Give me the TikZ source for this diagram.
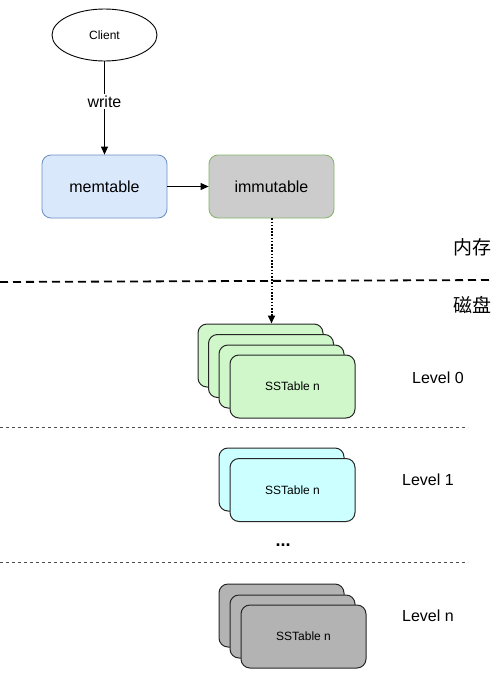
\documentclass[tikz,border=0pt]{standalone}
\usepackage{fontspec}
\setmainfont{Liberation Sans}
\newfontfamily\cjk{Noto Sans CJK SC}
\usetikzlibrary{arrows.meta,shapes.geometric}
\definecolor{memfill}{HTML}{DAE8FC}
\definecolor{memdraw}{HTML}{6C8EBF}
\definecolor{immfill}{HTML}{CCCCCC}
\definecolor{immdraw}{HTML}{82B366}
\definecolor{lzfill}{HTML}{CFF7CA}
\definecolor{lofill}{HTML}{CCFFFF}
\definecolor{lnfill}{HTML}{B3B3B3}
\begin{document}
\begin{tikzpicture}[x=1pt,y=-1pt,
  box/.style={draw, line width=0.8pt, rounded corners=9pt, minimum width=125pt, minimum height=63pt, inner sep=0pt, font=\fontsize{16}{18}\selectfont},
  sst/.style={draw=black!85, line width=1pt, rounded corners=9pt, minimum width=125pt, minimum height=63pt, inner sep=0pt, font=\fontsize{12}{14}\selectfont},
  lvl/.style={font=\fontsize{16}{18}\selectfont},
  sep/.style={draw=black!70, line width=0.8pt, dash pattern=on 3pt off 3pt},
  arr/.style={-{Triangle[length=8pt,width=7pt]}, line width=0.9pt}]
\useasboundingbox (0,0) rectangle (500,675);
\fill[white] (0,0) rectangle (500,675);

% top part
\node[ellipse, draw, line width=0.9pt, minimum width=105pt, minimum height=52pt, inner sep=0pt, font=\fontsize{12}{14}\selectfont] (client) at (104.5,35) {Client};
\node[box, fill=memfill, draw=memdraw] (mem) at (104.5,186.5) {memtable};
\node[box, fill=immfill, draw=immdraw] (imm) at (271.5,186.5) {immutable};

\draw[arr] (client) -- node[pos=0.43, fill=white, inner sep=2pt, font=\fontsize{16}{18}\selectfont] (wlabel) {write} (mem);
\draw[arr] (mem) -- (imm);

% memory / disk separator
\coordinate (sepL) at (0,282);
\coordinate (sepR) at (492,280);
\draw[line width=1.8pt, dash pattern=on 8pt off 5pt] (sepL) -- (sepR);
\node[font=\cjk\fontsize{19}{21}\selectfont] (mem_lbl) at (472,247) {内存};
\node[font=\cjk\fontsize{19}{21}\selectfont] (disk_lbl) at (472,305) {磁盘};

% level 0
\node[sst, fill=lzfill] (l0a) at (260.5,355.5) {};
\node[sst, fill=lzfill] (l0b) at (271,366) {};
\node[sst, fill=lzfill] (l0c) at (281.5,376.5) {};
\node[sst, fill=lzfill] (l0d) at (292.5,386.5) {SSTable n};
\node[lvl] (lv0) at (438,378) {Level 0};

\draw[arr, line width=2pt, dash pattern=on 1.6pt off 1.6pt] (imm.south) -- (imm.south |- l0a.north);

\draw[sep] (0,427) -- (468,427);

% level 1
\node[sst, fill=lofill] (l1a) at (281.5,479.5) {};
\node[sst, fill=lofill] (l1b) at (292.5,490) {SSTable n};
\node[lvl] (lv1) at (428,480) {Level 1};

\node[font=\fontsize{18}{20}\selectfont\bfseries] (dots) at (283,545) {...};

\draw[sep] (0,562) -- (468,562);

% level n
\node[sst, fill=lnfill] (lna) at (281.5,615.5) {};
\node[sst, fill=lnfill] (lnb) at (292.5,626.5) {};
\node[sst, fill=lnfill] (lnc) at (303.5,636.5) {SSTable n};
\node[lvl] (lvn) at (428,616) {Level n};
\end{tikzpicture}
\end{document}
